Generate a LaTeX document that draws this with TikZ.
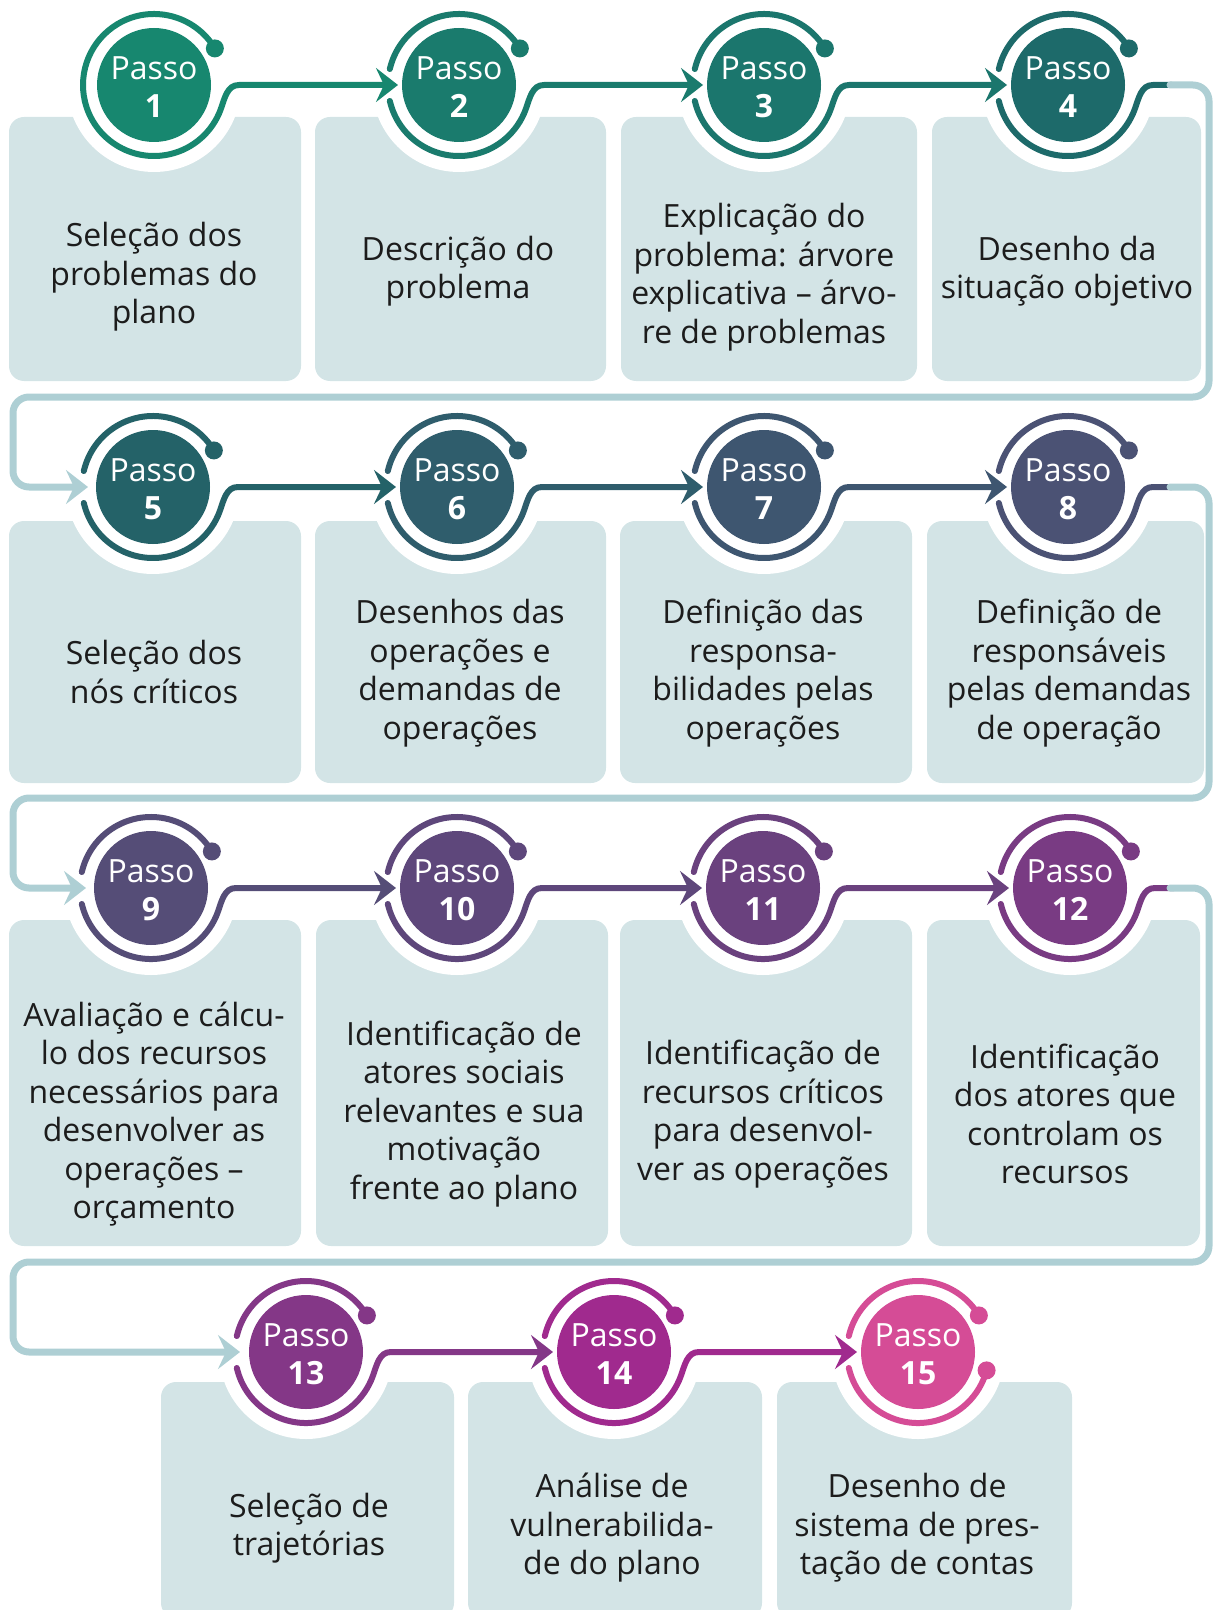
\documentclass[tikz,border=0pt]{standalone}
\usepackage{fontspec}
\setmainfont{Open Sans}
\usetikzlibrary{arrows.meta,calc}

\definecolor{caixa}{HTML}{D3E4E6}
\definecolor{laco}{HTML}{AECFD4}
\definecolor{texto}{HTML}{1C1C1C}
\definecolor{passo1}{HTML}{17876F}
\definecolor{passo2}{HTML}{1A7B6D}
\definecolor{passo3}{HTML}{1B766D}
\definecolor{passo4}{HTML}{1D6A6A}
\definecolor{passo5}{HTML}{246268}
\definecolor{passo6}{HTML}{2F5D6C}
\definecolor{passo7}{HTML}{3E5670}
\definecolor{passo8}{HTML}{4B5274}
\definecolor{passo9}{HTML}{554D77}
\definecolor{passo10}{HTML}{5E477B}
\definecolor{passo11}{HTML}{6A417E}
\definecolor{passo12}{HTML}{793B83}
\definecolor{passo13}{HTML}{843787}
\definecolor{passo14}{HTML}{A02A8E}
\definecolor{passo15}{HTML}{D54C96}

\tikzset{
  disco/.style={circle, minimum size=57pt, inner sep=0pt, text=white,
    align=center, font=\fontsize{16}{19}\selectfont},
  anel/.style={line width=3pt, line cap=round},
  seta/.style={anel, -{Stealth[length=11pt,width=17pt,inset=4pt]}},
  lacoseta/.style={line width=3.5pt, line cap=round, color=laco,
    rounded corners=8pt, -{Stealth[length=11pt,width=17pt,inset=4pt]}},
  rotulo/.style={align=center, text=texto, inner sep=0pt,
    font=\fontsize{16}{19.25}\selectfont},
}

\begin{document}
\begin{tikzpicture}[x=0.5pt,y=0.5pt]
\useasboundingbox (0,0) rectangle (1215,-1610);
\clip (0,0) rectangle (1215,-1610);

% caixas
\foreach \a/\b/\c/\d in {9/301/117/381, 315/606/117/381, 621/917/117/381, 932/1201/117/381,
    9/301/521/783, 315/606/521/783, 620/912/521/783, 927/1204/521/783,
    9/301/920/1246, 316/608/920/1246, 620/912/920/1246, 927/1200/920/1246,
    161/454/1382/1618, 468/762/1382/1618, 777/1072/1382/1618}
  \fill[caixa, rounded corners=7.5pt] (\a,-\c) rectangle (\b,-\d);

\def\passos{1/154/85, 2/459/85, 3/764/85, 4/1068/85,
  5/153/487, 6/457/487, 7/764/487, 8/1068/487,
  9/151/888, 10/457/888, 11/763/888, 12/1070/888,
  13/306/1352, 14/614/1352, 15/918/1352}

\foreach \n/\x/\y in \passos
  \fill[white] (\x,-\y) circle[radius=87];

\foreach \n/\x/\y in \passos
  \node[disco, fill=passo\n] (p\n) at (\x,-\y) {\rule{0pt}{13.6pt}Passo\\\textbf{\n}};

% aneis de cima
\foreach \n in {2,...,15} {
  \draw[anel, color=passo\n] ($(p\n)+(31:71)$) arc[start angle=31, end angle=167, radius=71];
  \fill[passo\n] ($(p\n)+(31:71)$) circle[radius=9];
}
\draw[anel, color=passo1] ($(p1)+(31:71)$) arc[start angle=31, end angle=193, radius=71];
\fill[passo1] ($(p1)+(31:71)$) circle[radius=9];

% setas na mesma linha
\foreach \n/\m in {1/2, 2/3, 3/4, 5/6, 6/7, 7/8, 9/10, 10/11, 11/12, 13/14, 14/15}
  \draw[seta, color=passo\n] ($(p\n)+(193:71)$) arc[start angle=193, end angle=340, radius=71]
    to[out=70, in=180] ($(p\n)+(85,0)$) -- ($(p\m)+(-61,0)$);

% lacos entre as linhas
\foreach \n in {4, 8, 12}
  \draw[anel, color=passo\n] ($(p\n)+(193:71)$) arc[start angle=193, end angle=340, radius=71]
    to[out=70, in=180] ($(p\n)+(85,0)$) -- ($(p\n)+(104,0)$);
\draw[lacoseta] ($(p4)+(102,0)$) -- (1209,-85) -- (1209,-397) -- (13,-397) -- (13,-487) -- ($(p5)+(-65,0)$);
\draw[lacoseta] ($(p8)+(102,0)$) -- (1209,-487) -- (1209,-798) -- (13,-798) -- (13,-888) -- ($(p9)+(-65,0)$);
\draw[lacoseta] ($(p12)+(100,0)$) -- (1209,-888) -- (1209,-1262) -- (13,-1262) -- (13,-1352) -- ($(p13)+(-66,0)$);

% ultimo passo
\draw[anel, color=passo15] ($(p15)+(193:71)$) arc[start angle=193, end angle=345, radius=71];
\fill[passo15] ($(p15)+(345:71)$) circle[radius=9];

% textos
\node[rotulo] (t1) at (154,-277) {Seleção dos\\problemas do\\plano};
\node[rotulo] (t2) at (458,-271) {Descrição do\\problema};
\node[rotulo] (t3) at (764,-277) {Explicação do\\problema: árvore\\explicativa – árvo-\\re de problemas};
\node[rotulo] (t4) at (1067,-271) {Desenho da\\situação objetivo};

\node[rotulo] (t5) at (154,-672) {Seleção dos\\nós críticos};
\node[rotulo] (t6) at (460,-673) {Desenhos das\\operações e\\demandas de\\operações};
\node[rotulo] (t7) at (763,-673) {Definição das\\responsa-\\bilidades pelas\\operações};
\node[rotulo] (t8) at (1069,-673) {Definição de\\responsáveis\\pelas demandas\\de operação};

\node[rotulo] (t9) at (154,-1114) {Avaliação e cálcu-\\lo dos recursos\\necessários para\\desenvolver as\\operações –\\orçamento};
\node[rotulo] (t10) at (464,-1114) {Identificação de\\atores sociais\\relevantes e sua\\motivação\\frente ao plano};
\node[rotulo] (t11) at (763,-1114) {Identificação de\\recursos críticos\\para desenvol-\\ver as operações};
\node[rotulo] (t12) at (1065,-1114) {Identificação\\dos atores que\\controlam os\\recursos};

\node[rotulo] (t13) at (309,-1528) {Seleção de\\trajetórias};
\node[rotulo] (t14) at (612,-1528) {Análise de\\vulnerabilida-\\de do plano};
\node[rotulo] (t15) at (917,-1528) {Desenho de\\sistema de pres-\\tação de contas};

\end{tikzpicture}
\end{document}
